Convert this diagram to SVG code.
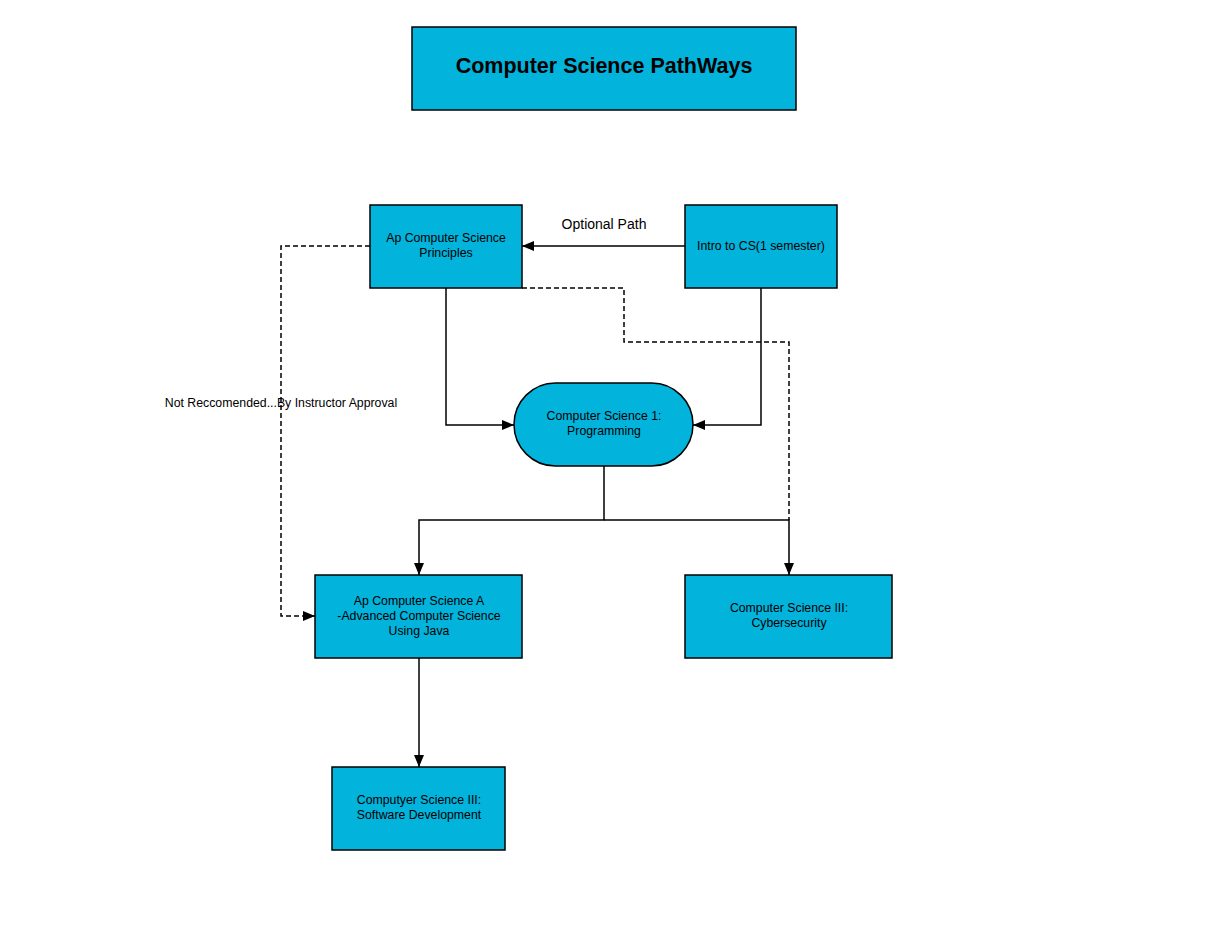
<svg xmlns="http://www.w3.org/2000/svg" width="1206" height="932" viewBox="0 0 1206 932">
<style>
.node{fill:#02b3dc;stroke:#000;stroke-width:1.5}
.t{font-family:"Liberation Sans",Arial,sans-serif;font-size:12.3px;fill:#000;text-anchor:middle}
.title{font-family:"Liberation Sans",Arial,sans-serif;font-size:21.5px;font-weight:bold;fill:#000;text-anchor:middle}
.lbl{font-family:"Liberation Sans",Arial,sans-serif;fill:#000;text-anchor:middle}
.c{fill:none;stroke:#000;stroke-width:1.5}
.d{fill:none;stroke:#000;stroke-width:1.5;stroke-dasharray:5,3}
</style>
<defs>
<marker id="ah" markerWidth="12" markerHeight="10" refX="12" refY="5" orient="auto" markerUnits="userSpaceOnUse">
<path d="M0,0 L12,5 L0,10 Z" fill="#000"/>
</marker>
</defs>
<rect width="1206" height="932" fill="#fff"/>
<g id="title">
<rect class="node" x="412" y="27" width="384" height="83"/>
<text class="title" x="604" y="73">Computer Science PathWays</text>
</g>
<g id="connectors">
<path class="c" d="M685,246 H522" marker-end="url(#ah)"/>
<path class="c" d="M446,288 V425 H514" marker-end="url(#ah)"/>
<path class="c" d="M761,288 V425 H693" marker-end="url(#ah)"/>
<path class="c" d="M604,466 V520 H419 V575" marker-end="url(#ah)"/>
<path class="c" d="M604,520 H789 V575" marker-end="url(#ah)"/>
<path class="c" d="M419,658 V767" marker-end="url(#ah)"/>
<path class="d" d="M370,246 H281 V616 H315" marker-end="url(#ah)"/>
<path class="d" d="M522,288 H624 V342 H789 V520"/>
<text class="lbl" x="604" y="229" font-size="14">Optional Path</text>
<text class="lbl" x="281" y="407" font-size="12.3">Not Reccomended...By Instructor Approval</text>
</g>
<g id="apcsp">
<rect class="node" x="370" y="205" width="152" height="83"/>
<text class="t" x="446" y="242">Ap Computer Science</text>
<text class="t" x="446" y="257">Principles</text>
</g>
<g id="intro">
<rect class="node" x="685" y="205" width="152" height="83"/>
<text class="t" x="761" y="250">Intro to CS(1 semester)</text>
</g>
<g id="cs1">
<rect class="node" x="514" y="383" width="179" height="83" rx="41.5" ry="41.5"/>
<text class="t" x="604" y="420">Computer Science 1:</text>
<text class="t" x="604" y="435">Programming</text>
</g>
<g id="apcsa">
<rect class="node" x="315" y="575" width="207" height="83"/>
<text class="t" x="419" y="605">Ap Computer Science A</text>
<text class="t" x="419" y="620">-Advanced Computer Science</text>
<text class="t" x="419" y="635">Using Java</text>
</g>
<g id="cyber">
<rect class="node" x="685" y="575" width="207" height="83"/>
<text class="t" x="789" y="612">Computer Science III:</text>
<text class="t" x="789" y="627">Cybersecurity</text>
</g>
<g id="swdev">
<rect class="node" x="332" y="767" width="173" height="83"/>
<text class="t" x="419" y="804">Computyer Science III:</text>
<text class="t" x="419" y="819">Software Development</text>
</g>
</svg>
